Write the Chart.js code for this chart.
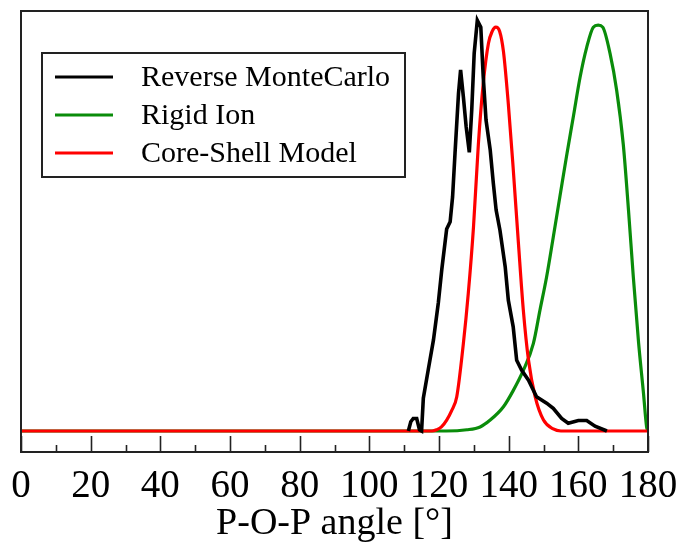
<!DOCTYPE html>
<html>
<head>
<meta charset="utf-8">
<script src="https://cdn.jsdelivr.net/npm/chart.js@4"></script>
<style>
  html, body { margin: 0; padding: 0; background: #fff; }
  #wrap { width: 681px; height: 544px; }
</style>
</head>
<body>
<div id="wrap"><canvas id="myChart" width="681" height="544"></canvas></div>
<script>
const seriesNames = ['Reverse MonteCarlo', 'Rigid Ion', 'Core-Shell Model'];
const seriesColors = ['#000000', '#0a8c0a', '#ff0000'];

// Reverse MonteCarlo (noisy, only measured between ~111 and ~168 degrees)
const rmcX = [111.2, 111.9, 112.6, 113.6, 114.4, 115, 115.5, 116.9, 118.4, 119.8, 120.8, 122.2, 123.2, 123.9,
  124.6, 125.6, 126.2, 127, 127.8, 128.7, 129.4, 130.1, 131, 132, 132.7, 133.5, 134.7, 135.6, 136.4, 137.5,
  139, 139.9, 141.3, 142.3, 143.7, 145.7, 148, 150.9, 152.8, 155.2, 157.1, 160, 162.4, 164.8, 168.2];
const rmcY = [0, 0.023, 0.031, 0.031, 0.003, 0, 0.081, 0.151, 0.225, 0.317, 0.4, 0.5, 0.518, 0.58,
  0.688, 0.836, 0.894, 0.827, 0.753, 0.69, 0.795, 0.935, 1.017, 1.0, 0.877, 0.77, 0.696, 0.613, 0.547, 0.497,
  0.407, 0.324, 0.258, 0.175, 0.151, 0.126, 0.085, 0.069, 0.056, 0.031, 0.019, 0.026, 0.026, 0.012, 0];

// Rigid Ion
const rigidX = [0, 122, 128, 131.8, 134.7, 138.5, 141.3, 144.2, 147.1, 149, 150.9, 152.8, 154.7, 156.6, 158.6,
  160.5, 162.4, 164.3, 165.7, 167, 169.1, 171, 172.9, 174.4, 175.8, 177.3, 178.7, 179.6, 180];
const rigidY = [0, 0, 0.003, 0.01, 0.027, 0.06, 0.1, 0.15, 0.217, 0.3, 0.382, 0.48, 0.58, 0.68, 0.78,
  0.876, 0.95, 1.0, 1.005, 1.0, 0.935, 0.844, 0.71, 0.547, 0.38, 0.218, 0.094, 0.01, 0];

// Core-Shell Model
const shellX = [0, 118, 119.3, 120.7, 122.2, 123.6, 125.1, 127, 128.4, 129.9, 131.3, 132.7, 134.2, 135.3, 136.3,
  137.4, 138.5, 139.9, 141.3, 142.8, 144.2, 145.7, 147.6, 150, 152.8, 155, 180];
const shellY = [0, 0, 0.003, 0.01, 0.027, 0.05, 0.085, 0.217, 0.34, 0.505, 0.71, 0.86, 0.96, 0.99, 1.0,
  0.99, 0.94, 0.81, 0.65, 0.465, 0.3, 0.175, 0.085, 0.027, 0.005, 0, 0];

const xTickLabels = [0, 20, 40, 60, 80, 100, 120, 140, 160, 180];
const xMinorStep = 10;

const serif = '"Liberation Serif", "DejaVu Serif", serif';

function toPoints(xs, ys) {
  return xs.map((x, i) => ({ x: x, y: ys[i] }));
}

// frame around the plot plus inward tick marks
const framePlugin = {
  id: 'frame',
  afterDraw(chart) {
    const ctx = chart.ctx;
    const a = chart.chartArea;
    const xs = chart.scales.x;
    ctx.save();
    ctx.strokeStyle = '#222';
    ctx.lineWidth = 2;
    ctx.strokeRect(a.left, a.top, a.right - a.left, a.bottom - a.top);
    ctx.lineWidth = 1.6;
    ctx.beginPath();
    for (let v = xs.min; v <= xs.max; v += xMinorStep) {
      const px = Math.round(xs.getPixelForValue(v)) + 0.5;
      const len = xTickLabels.includes(v) ? 16 : 7;
      ctx.moveTo(px, a.bottom);
      ctx.lineTo(px, a.bottom - len);
    }
    ctx.stroke();
    ctx.restore();
  }
};

// boxed legend inside the plot, upper left
const boxLegend = {
  id: 'boxLegend',
  afterDraw(chart) {
    const ctx = chart.ctx;
    const box = { x: 42, y: 53, w: 363, h: 124 };
    ctx.save();
    ctx.strokeStyle = '#222';
    ctx.lineWidth = 2;
    ctx.strokeRect(box.x, box.y, box.w, box.h);
    ctx.font = '30px ' + serif;
    ctx.textBaseline = 'middle';
    ctx.fillStyle = '#000';
    chart.data.datasets.forEach((ds, i) => {
      const y = box.y + 24 + i * 38;
      ctx.strokeStyle = ds.borderColor;
      ctx.lineWidth = 3;
      ctx.beginPath();
      ctx.moveTo(55, y);
      ctx.lineTo(113, y);
      ctx.stroke();
      ctx.fillText(ds.label, 141, y + 1);
    });
    ctx.restore();
  }
};

let ctx = document.getElementById('myChart').getContext('2d');

new Chart(ctx, {
  type: 'line',
  data: {
    datasets: [
      {
        label: seriesNames[0],
        data: toPoints(rmcX, rmcY),
        borderColor: seriesColors[0],
        borderWidth: 3.6,
        pointRadius: 0,
        tension: 0,
        order: 0,
      },
      {
        label: seriesNames[1],
        data: toPoints(rigidX, rigidY),
        borderColor: seriesColors[1],
        borderWidth: 3.2,
        pointRadius: 0,
        cubicInterpolationMode: 'monotone',
        order: 2,
      },
      {
        label: seriesNames[2],
        data: toPoints(shellX, shellY),
        borderColor: seriesColors[2],
        borderWidth: 3.2,
        pointRadius: 0,
        cubicInterpolationMode: 'monotone',
        order: 1,
      },
    ],
  },
  options: {
    responsive: false,
    animation: false,
    layout: { padding: { left: 21, right: 33, top: 11, bottom: 0 } },
    plugins: {
      legend: { display: false },
      tooltip: { enabled: false },
    },
    scales: {
      x: {
        type: 'linear',
        min: 0,
        max: 180,
        grid: { display: false, drawTicks: false },
        border: { display: false },
        ticks: {
          stepSize: 20,
          padding: 11,
          color: '#000',
          maxRotation: 0,
          font: { family: serif, size: 39 },
        },
        title: {
          display: true,
          text: 'P-O-P angle [°]',
          color: '#000',
          font: { family: serif, size: 38, lineHeight: 1.0 },
          padding: { top: 0, bottom: 1 },
        },
        afterFit(scale) {
          scale.height = 92;
          scale.paddingLeft = 0;
          scale.paddingRight = 0;
        },
      },
      y: {
        display: false,
        min: -0.052,
        max: 1.04,
      },
    },
  },
  plugins: [framePlugin, boxLegend],
});
</script>
</body>
</html>
